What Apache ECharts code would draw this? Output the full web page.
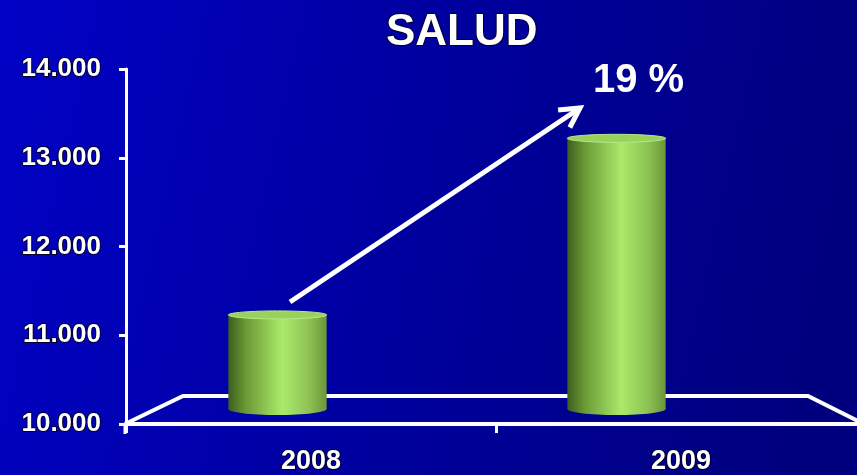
<!DOCTYPE html>
<html>
<head>
<meta charset="utf-8">
<script src="https://cdn.jsdelivr.net/npm/echarts@6/dist/echarts.min.js"></script>
<style>
  html, body { margin: 0; padding: 0; }
  #chart { width: 857px; height: 475px; }
</style>
</head>
<body>
<div id="chart"></div>
<script>
const years = ['2008', '2009'];
const salud = [11060, 13050];
const yTicks = ['10.000', '11.000', '12.000', '13.000', '14.000'];
const growthLabel = '19 %';

const font = '"Liberation Sans", Arial, sans-serif';
const outline = { textBorderColor: '#00002a', textBorderWidth: 2 };

const cylFill = new echarts.graphic.LinearGradient(0, 0, 1, 0, [
  { offset: 0, color: '#3c5e1e' },
  { offset: 0.18, color: '#6b9a36' },
  { offset: 0.55, color: '#abea6a' },
  { offset: 0.82, color: '#8dc253' },
  { offset: 1, color: '#6a963a' },
]);

function renderCylinder(params, api) {
  const top = api.coord([api.value(0), api.value(1)]);
  const base = api.coord([api.value(0), 10000]);
  const w = api.size([1, 0])[0] * 0.29;
  const cx = top[0];
  const ry = 4;
  return {
    type: 'group',
    children: [
      { type: 'ellipse', shape: { cx, cy: base[1], rx: w / 2, ry: ry + 2 }, style: { fill: cylFill } },
      { type: 'rect', shape: { x: cx - w / 2, y: top[1], width: w, height: base[1] - top[1] }, style: { fill: cylFill } },
      { type: 'ellipse', shape: { cx, cy: top[1], rx: w / 2, ry }, style: { fill: '#98d25a', stroke: '#b9e88c', lineWidth: 1 } },
    ],
  };
}

// arrow from the 2008 bar towards the 2009 bar
const a0 = [290, 302];
const a1 = [580, 108];
const ang = Math.atan2(a1[1] - a0[1], a1[0] - a0[0]);
const head = 22;
const arm = (d) => [a1[0] - head * Math.cos(ang + d), a1[1] - head * Math.sin(ang + d)];

const chart = echarts.init(document.getElementById('chart'));
chart.setOption({
  backgroundColor: new echarts.graphic.LinearGradient(0, 0, 1, 0.4, [
    { offset: 0, color: '#0202c6' },
    { offset: 0.55, color: '#00009c' },
    { offset: 1, color: '#00007e' },
  ]),
  title: {
    text: 'SALUD',
    left: 381,
    top: 6,
    textStyle: { color: '#fff', fontSize: 44, fontWeight: 'bold', fontFamily: font, ...outline },
  },
  grid: [
    { left: 126, width: 740, top: 69, bottom: 51, outerBoundsMode: 'none' },
    { left: 108, width: 678, top: 54, bottom: 66, outerBoundsMode: 'none' },
  ],
  xAxis: [
    {
      type: 'category',
      data: years,
      gridIndex: 0,
      axisLine: { lineStyle: { color: '#fff', width: 4 } },
      axisTick: { show: true, length: 9, lineStyle: { color: '#fff', width: 3 } },
      axisLabel: { color: '#fff', fontSize: 27, fontWeight: 'bold', fontFamily: font, margin: 24, ...outline },
    },
    { type: 'category', data: years, gridIndex: 1, show: false },
  ],
  yAxis: [
    {
      type: 'value',
      gridIndex: 0,
      min: 10000,
      max: 14000,
      interval: 1000,
      splitLine: { show: false },
      axisLine: { show: true, lineStyle: { color: '#fff', width: 3 } },
      axisTick: { show: true, length: 7, lineStyle: { color: '#fff', width: 3 } },
      axisLabel: {
        color: '#fff', fontSize: 26, fontWeight: 'bold', fontFamily: font, margin: 25, ...outline,
        formatter: (v) => yTicks[Math.round((v - 10000) / 1000)],
      },
    },
    { type: 'value', gridIndex: 1, min: 10000, max: 14000, show: false },
  ],
  series: [
    {
      type: 'custom',
      xAxisIndex: 1,
      yAxisIndex: 1,
      z: 5,
      renderItem: renderCylinder,
      data: years.map((y, i) => [i, salud[i]]),
    },
  ],
  graphic: [
    {
      type: 'polyline',
      z: 1,
      shape: { points: [[125, 424], [183, 396], [808, 396], [860, 422]] },
      style: { stroke: '#fff', lineWidth: 4, fill: null },
    },
    {
      type: 'line',
      z: 10,
      shape: { x1: 125, y1: 424, x2: 125, y2: 434 },
      style: { stroke: '#fff', lineWidth: 3 },
    },
    {
      type: 'line',
      z: 10,
      shape: { x1: a0[0], y1: a0[1], x2: a1[0], y2: a1[1] },
      style: { stroke: '#fff', lineWidth: 5 },
    },
    {
      type: 'polyline',
      z: 10,
      shape: { points: [arm(0.5), a1, arm(-0.5)] },
      style: { stroke: '#fff', lineWidth: 5, fill: null },
    },
    {
      type: 'text',
      z: 10,
      left: 593,
      top: 61,
      style: { text: growthLabel, fill: '#fff', font: 'bold 40px ' + font },
    },
  ],
});
</script>
</body>
</html>
